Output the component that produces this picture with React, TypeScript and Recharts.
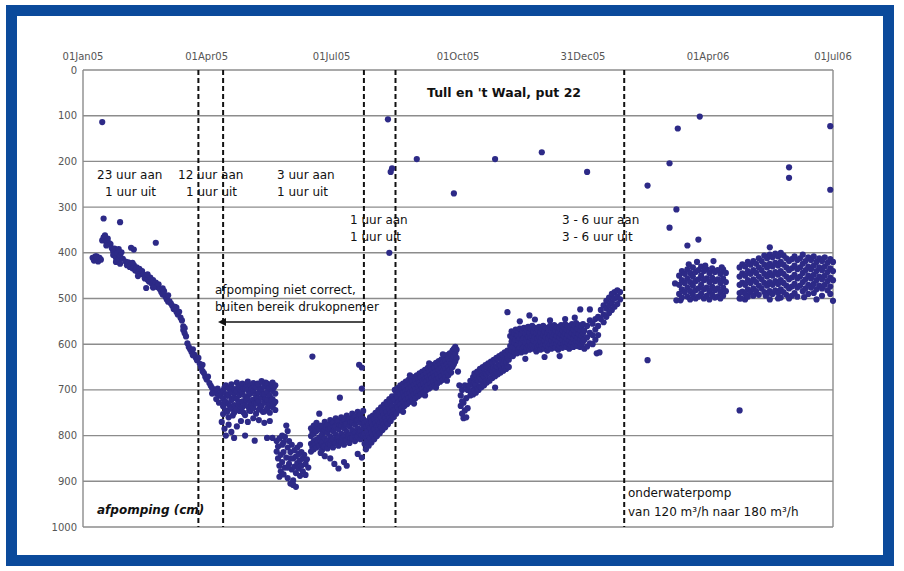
import React from "react";
import { CartesianGrid, ReferenceLine, Scatter, ScatterChart, XAxis, YAxis } from "recharts";

type Pt = [number, number]; // [day since 01Jan05, afpomping in cm]

const tickDays = [0, 90, 181, 273, 364, 455, 546];
const tickLabels = ["01Jan05", "01Apr05", "01Jul05", "01Oct05", "31Dec05", "01Apr06", "01Jul06"];
const depthTicks = [0, 100, 200, 300, 400, 500, 600, 700, 800, 900, 1000];
const switchDays = [84, 102, 204.5, 227.5, 394];

const early: Pt[] = [
  [7,411],[8,417],[9,408],[10,414],[11,419],[12,411],[13,415],[10,408],
  [14,373],[15,366],[16,370],[17,376],[18,369],[19,379],[20,381],[17,384],[16,362],
  [21,390],[22,397],[22,405],[23,391],[24,411],[24,420],[25,401],[26,415],[27,424],[27,406],[28,399],[29,413],[26,392],
  [31,419],[32,427],[33,421],[34,431],[35,424],[36,434],[37,427],[38,439],[39,432],[40,442],[41,435],[42,446],[43,440],[36,422],[40,451],
  [44,448],[45,456],[46,449],[47,459],[48,463],[49,454],[50,467],[51,460],[52,471],[53,465],[54,475],[55,469],[47,447],[51,476],
  [56,480],[57,486],[58,491],[59,484],[60,496],[61,502],[62,493],[63,506],[64,511],[58,478],[62,507],
  [65,516],[66,523],[67,518],[68,529],[69,535],[70,529],[71,542],[72,548],[68,520],
  [73,561],[73,569],[74,576],[75,583],[74,565],
  [76,598],[77,606],[78,611],[79,617],[80,611],[81,623],[82,629],[83,635],[84,630],[80,624],
  [85,643],[86,651],[87,659],[88,663],[89,671],[90,677],[91,671],[87,645],
  [92,685],[93,691],[94,696],[95,700],[96,704],[97,707],[98,697],[99,711],[100,713],[101,704],[94,708],[97,720],[99,728],
];

const earlyOutliers: Pt[] = [[14,114],[15,325],[27,333],[53,378],[35,389],[37,393],[46,477]];

const plateau: Pt[] = [
  [102,701],[102,719],[102,736],[102,753],[103,695],[103,729],
  [104,690],[104,709],[104,726],[104,745],[105,713],[105,748],
  [106,696],[106,711],[106,731],[106,760],[107,700],[107,736],
  [108,688],[108,705],[108,722],[108,741],[109,719],[109,756],
  [110,698],[110,717],[110,733],[110,750],[111,706],[111,740],
  [112,684],[112,703],[112,720],[112,743],[113,694],[113,731],
  [114,692],[114,711],[114,727],[114,746],[115,702],[115,738],
  [116,686],[116,705],[116,725],[116,738],[117,697],[117,750],
  [118,696],[118,714],[118,733],[118,755],[119,688],[119,722],
  [120,682],[120,700],[120,718],[120,736],[121,709],[121,745],
  [122,690],[122,708],[122,727],[122,746],[123,697],[123,734],
  [124,685],[124,703],[124,721],[124,740],[125,693],[125,729],
  [126,694],[126,712],[126,730],[126,752],[127,686],[127,719],
  [128,688],[128,706],[128,725],[128,743],[129,698],[129,735],
  [130,681],[130,699],[130,717],[130,735],[131,709],[131,748],
  [132,692],[132,710],[132,728],[132,747],[133,684],[133,720],
  [134,686],[134,704],[134,722],[134,741],[135,696],[135,733],
  [136,695],[136,713],[136,731],[136,750],[137,688],[137,723],
  [138,684],[138,702],[138,720],[138,738],[139,694],[139,730],
  [140,690],[140,708],[140,726],[140,744],
];

const plateauLow: Pt[] = [
  [101,770],[103,785],[104,800],[106,776],[108,792],[110,805],[112,780],[115,768],[118,800],
  [120,770],[124,762],[125,811],[128,766],[132,772],[134,805],[136,768],[138,805],
];

const dip: Pt[] = [
  [141,812],[141,835],[142,850],[142,824],[143,866],[143,806],[144,842],[144,878],[145,820],[145,858],
  [146,836],[146,885],[147,803],[147,870],[148,778],[148,848],[149,790],[149,826],[149,893],[150,812],
  [150,862],[151,836],[151,905],[152,874],[152,820],[153,850],[153,898],[154,832],[154,868],[155,846],
  [155,882],[156,826],[156,860],[157,872],[157,840],[158,854],[158,888],[159,836],[159,866],[160,850],
  [160,878],[161,842],[162,862],[162,886],[163,852],[164,870],[155,912],[153,908],[146,815],[151,850],
  [158,820],[143,890],[149,870],[145,800],
];

const recovery: Pt[] = [
  [166,784],[166,801],[166,818],[166,835],[167,792],[167,826],
  [168,778],[168,796],[168,812],[168,830],[169,788],[169,820],
  [170,772],[170,790],[170,809],[170,826],[171,782],[171,815],
  [172,786],[172,804],[172,822],[173,778],[173,812],[173,838],
  [174,780],[174,798],[174,816],[174,832],[175,790],[175,824],
  [176,770],[176,788],[176,806],[176,824],[177,781],[177,813],
  [178,776],[178,794],[178,812],[178,828],[179,786],[179,818],
  [180,766],[180,784],[180,802],[180,820],[181,775],[181,810],
  [182,772],[182,790],[182,808],[182,826],[183,781],[183,815],
  [184,762],[184,780],[184,798],[184,816],[185,770],[185,806],
  [186,768],[186,786],[186,804],[186,822],[187,777],[187,812],
  [188,760],[188,778],[188,796],[188,814],[189,769],[189,805],
  [190,766],[190,784],[190,802],[190,820],[191,775],[191,810],
  [192,756],[192,774],[192,792],[192,810],[193,765],[193,801],
  [194,762],[194,780],[194,798],[194,816],[195,771],[195,806],
  [196,752],[196,770],[196,788],[196,806],[197,761],[197,797],
  [198,758],[198,776],[198,794],[198,812],[199,767],[199,803],
  [200,748],[200,766],[200,784],[200,802],[201,757],[201,793],
  [202,754],[202,772],[202,790],[202,808],[203,763],[203,799],
  [204,746],[204,764],[204,782],[204,800],
];

const recoveryOutliers: Pt[] = [
  [172,752],[176,845],[180,850],[183,862],[186,872],[190,858],[192,866],[187,717],[167,627],
  [201,645],[203,651],[203,697],[203,848],[200,840],
];

const oneHour: Pt[] = [
  [205,772],[205,795],[205,818],[206,782],[206,806],[206,830],
  [207,768],[207,790],[207,812],[208,776],[208,800],[208,822],
  [209,760],[209,784],[209,806],[210,770],[210,794],[210,815],
  [211,756],[211,778],[211,800],[212,764],[212,786],[212,808],
  [213,750],[213,772],[213,794],[214,758],[214,780],[214,801],
  [215,744],[215,766],[215,788],[216,752],[216,774],[216,795],
  [217,738],[217,760],[217,782],[218,746],[218,768],[218,788],
  [219,732],[219,754],[219,775],[220,740],[220,762],[220,782],
  [221,726],[221,748],[221,769],[222,734],[222,756],[222,775],
  [223,720],[223,742],[223,762],[224,728],[224,750],[224,768],
  [225,714],[225,736],[225,756],[226,722],[226,744],[226,760],
];

const oneHourOutliers: Pt[] = [[222,108],[225,215],[224,223],[223,400]];

const autumn: Pt[] = [
  [227,700],[227,722],[227,744],[228,710],[228,732],[228,752],
  [229,696],[229,716],[229,738],[230,704],[230,726],[230,745],
  [231,690],[231,710],[231,732],[232,698],[232,720],[232,740],
  [233,686],[233,706],[233,727],[234,694],[234,714],[234,735],
  [235,682],[235,702],[235,722],[236,690],[236,710],[236,731],
  [237,678],[237,698],[237,718],[238,686],[238,706],[238,726],
  [239,676],[239,694],[239,714],[240,682],[240,702],[240,722],
  [241,672],[241,690],[241,710],[242,680],[242,698],[242,718],
  [243,668],[243,686],[243,706],[244,676],[244,694],[244,714],
  [245,664],[245,684],[245,702],[246,672],[246,690],[246,710],
  [247,660],[247,680],[247,698],[248,668],[248,686],[248,705],
  [249,656],[249,676],[249,694],[250,664],[250,682],[250,700],
  [251,652],[251,672],[251,690],[252,660],[252,678],[252,697],
  [253,648],[253,668],[253,686],[254,656],[254,674],[254,693],
  [255,645],[255,664],[255,682],[256,652],[256,670],[256,690],
  [257,641],[257,660],[257,678],[258,648],[258,666],[258,686],
  [259,637],[259,656],[259,674],[260,644],[260,662],[260,682],
  [261,633],[261,652],[261,670],[262,640],[262,658],[262,678],
  [263,628],[263,648],[263,666],[264,636],[264,654],[264,673],
  [265,624],[265,644],[265,662],[266,632],[266,650],[266,668],
  [267,620],[267,638],[267,656],[268,626],[268,644],[268,662],
  [269,614],[269,632],[269,650],[270,610],[270,626],[270,644],
  [271,606],[271,620],[271,638],[272,612],[272,630],
  [273,660],[274,690],[275,712],[275,735],[276,752],[276,700],[277,728],[277,762],[278,745],
  [278,690],[279,718],[280,740],[280,700],[281,690],[282,712],[282,680],[276,725],[279,760],
  [233,748],[241,730],[249,712],[257,695],[265,680],[238,668],[252,642],[262,622],
];

const lateAutumn: Pt[] = [
  [283,680],[283,702],[284,672],[284,690],[284,710],[285,664],[285,684],[285,702],
  [286,668],[286,688],[286,706],[287,660],[287,678],[287,698],
  [288,662],[288,680],[288,700],[289,654],[289,672],[289,692],
  [290,658],[290,676],[290,694],[291,650],[291,668],[291,688],
  [292,652],[292,670],[292,690],[293,646],[293,664],[293,682],
  [294,650],[294,666],[294,684],[295,642],[295,660],[295,678],
  [296,644],[296,662],[296,680],[297,638],[297,656],[297,674],
  [298,640],[298,658],[298,674],[299,634],[299,652],[299,668],
  [300,636],[300,654],[300,670],[301,630],[301,648],[301,664],
  [302,632],[302,650],[302,666],[303,626],[303,644],[303,660],
  [304,628],[304,646],[304,662],[305,622],[305,640],[305,656],
  [306,624],[306,642],[306,658],[307,618],[307,636],[307,652],
  [308,620],[308,638],[308,654],[309,614],[309,632],[309,648],
  [310,616],[310,634],[310,650],
];

const winter: Pt[] = [
  [311,582],[311,604],[311,624],[312,572],[312,594],[312,614],[313,584],[313,606],[313,626],
  [314,576],[314,596],[314,618],[315,568],[315,590],[315,610],[316,580],[316,602],[316,620],
  [317,572],[317,592],[317,612],[318,566],[318,588],[318,608],[319,578],[319,598],[319,618],
  [320,570],[320,590],[320,610],[321,564],[321,586],[321,606],[322,576],[322,596],[322,616],
  [323,568],[323,588],[323,608],[324,562],[324,584],[324,604],[325,574],[325,594],[325,612],
  [326,566],[326,586],[326,606],[327,560],[327,582],[327,602],[328,572],[328,592],[328,610],
  [329,564],[329,584],[329,604],[330,576],[330,598],[330,616],[331,568],[331,588],[331,606],
  [332,562],[332,582],[332,602],[333,574],[333,594],[333,612],[334,566],[334,586],[334,604],
  [335,560],[335,580],[335,600],[336,572],[336,592],[336,610],[337,564],[337,584],[337,602],
  [338,576],[338,596],[338,614],[339,568],[339,588],[339,606],[340,560],[340,580],[340,600],
  [341,572],[341,592],[341,610],[342,564],[342,584],[342,602],[343,558],[343,578],[343,598],
  [344,570],[344,590],[344,608],[345,562],[345,582],[345,600],[346,574],[346,594],[346,612],
  [347,566],[347,586],[347,604],[348,558],[348,578],[348,598],[349,570],[349,590],[349,608],
  [350,562],[350,582],[350,600],[351,556],[351,576],[351,596],[352,568],[352,588],[352,606],
  [353,560],[353,580],[353,598],[354,572],[354,592],[354,610],[355,564],[355,584],[355,602],
  [356,556],[356,576],[356,596],[357,568],[357,588],[357,606],[358,560],[358,580],[358,598],
  [359,554],[359,574],[359,594],[360,566],[360,586],[360,604],[361,558],[361,578],[361,596],
  [362,570],[362,590],[362,606],[363,562],[363,582],[363,600],[364,556],[364,576],[364,594],
  [365,570],[365,590],[365,610],[367,560],[367,585],[367,605],[369,548],[369,575],[369,598],
  [371,555],[371,580],[371,600],[373,545],[373,568],[373,590],[375,540],[375,560],[375,580],
  [377,525],[377,545],[379,515],[379,535],[379,552],[381,505],[381,522],[381,540],
  [383,498],[383,515],[383,532],[385,490],[385,508],[385,525],[387,486],[387,500],[387,518],
  [389,482],[389,496],[389,512],[391,486],[391,502],
  [318,550],[329,546],[340,548],[351,545],[358,542],[322,632],[336,628],[347,626],
];

const winterOutliers: Pt[] = [
  [300,695],[309,530],[325,537],[362,524],[369,524],[374,620],[243,195],[270,270],[300,195],
  [334,180],[367,223],
];

const newPump: Pt[] = [
  [431,467],[432,504],[435,504],
  [434,450],[434,470],[434,490],[436,440],[436,460],[436,480],[436,498],
  [438,446],[438,466],[438,486],[440,436],[440,456],[440,476],[440,496],
  [442,444],[442,464],[442,484],[442,502],[444,432],[444,452],[444,472],[444,492],
  [446,442],[446,462],[446,482],[446,500],[448,438],[448,458],[448,478],[448,496],
  [450,430],[450,450],[450,470],[450,490],[452,440],[452,460],[452,480],[452,500],
  [454,436],[454,456],[454,476],[454,494],[456,444],[456,464],[456,484],[456,502],
  [458,434],[458,454],[458,474],[458,492],[460,442],[460,462],[460,482],[460,498],
  [462,438],[462,458],[462,478],[462,496],[464,446],[464,466],[464,486],[464,500],
  [466,436],[466,456],[466,476],[466,494],[468,444],[468,464],[468,484],
  [441,425],[447,420],[453,428],[459,418],[465,432],
];

const newPumpOutliers: Pt[] = [
  [427,345],[440,384],[448,371],[411,253],[427,204],[433,128],[449,102],[432,305],[411,635],[376,618],
];

const summer06: Pt[] = [
  [478,432],[478,452],[478,470],[478,488],[478,500],[480,425],[480,445],[480,465],[480,485],
  [482,430],[482,450],[482,470],[482,490],[482,502],[484,420],[484,440],[484,460],[484,480],[484,496],
  [486,426],[486,446],[486,466],[486,486],[488,418],[488,438],[488,458],[488,478],[488,494],
  [490,424],[490,444],[490,464],[490,484],[492,412],[492,432],[492,452],[492,472],[492,492],
  [494,418],[494,438],[494,458],[494,478],[496,406],[496,426],[496,446],[496,466],[496,486],
  [498,412],[498,432],[498,452],[498,472],[498,490],[500,388],[500,404],[500,424],[500,444],[500,464],[500,484],
  [502,410],[502,430],[502,450],[502,470],[502,490],[504,402],[504,422],[504,442],[504,462],[504,482],
  [506,408],[506,428],[506,448],[506,468],[506,488],[508,400],[508,420],[508,440],[508,460],[508,480],[508,498],
  [510,406],[510,426],[510,446],[510,466],[510,486],[512,412],[512,432],[512,452],[512,472],[512,492],
  [514,418],[514,438],[514,458],[514,478],[514,500],[516,414],[516,434],[516,454],[516,474],[516,494],
  [518,408],[518,428],[518,448],[518,468],[518,488],[520,416],[520,436],[520,456],[520,476],[520,496],
  [522,412],[522,432],[522,452],[522,472],[524,404],[524,424],[524,444],[524,464],[524,484],
  [526,418],[526,438],[526,458],[526,478],[528,410],[528,430],[528,450],[528,470],[528,490],
  [530,416],[530,436],[530,456],[530,476],[532,408],[532,428],[532,448],[532,468],[532,488],
  [534,420],[534,440],[534,460],[534,480],[534,502],[536,412],[536,432],[536,452],[536,472],
  [538,418],[538,438],[538,458],[538,478],[538,494],[540,410],[540,430],[540,450],[540,470],
  [542,422],[542,442],[542,462],[542,482],[544,414],[544,434],[544,454],[544,474],[544,490],
  [546,420],[546,440],[546,460],[546,505],
  [479,500],[500,502],[506,500],[497,494],[525,497],
];

const summer06Outliers: Pt[] = [[514,213],[514,236],[544,123],[544,262],[478,745]];

const allPoints = [
  ...early, ...earlyOutliers, ...plateau, ...plateauLow, ...dip, ...recovery, ...recoveryOutliers,
  ...oneHour, ...oneHourOutliers, ...autumn, ...lateAutumn, ...winter, ...winterOutliers,
  ...newPump, ...newPumpOutliers, ...summer06, ...summer06Outliers,
].map(([day, cm]) => ({ day, cm }));

const FONT = "'DejaVu Sans', Arial, sans-serif";
const GRID = "#8c8c8c";
const DOT = "#2d2a87";

const Dot = (p: any) => <circle cx={p.cx} cy={p.cy} r={3.1} fill={DOT} />;

function Notes() {
  const t = { fontFamily: FONT, fontSize: 12, fill: "#111", dominantBaseline: "middle" } as const;
  return (
    <svg width={904} height={571} style={{ position: "absolute", left: 0, top: 0, pointerEvents: "none" }}>
      <text x={427} y={93} {...t} fontSize={12.5} fontWeight="bold">Tull en 't Waal, put 22</text>
      <text x={97} y={175} {...t}>23 uur aan</text>
      <text x={105} y={192} {...t}>1 uur uit</text>
      <text x={178} y={175} {...t}>12 uur aan</text>
      <text x={186} y={192} {...t}>1 uur uit</text>
      <text x={277} y={175} {...t}>3 uur aan</text>
      <text x={277} y={192} {...t}>1 uur uit</text>
      <text x={350} y={220} {...t}>1 uur aan</text>
      <text x={350} y={237} {...t}>1 uur uit</text>
      <text x={562} y={220} {...t}>3 - 6 uur aan</text>
      <text x={562} y={237} {...t}>3 - 6 uur uit</text>
      <text x={215} y={290} {...t}>afpomping niet correct,</text>
      <text x={215} y={307} {...t}>buiten bereik drukopnemer</text>
      <line x1={220} y1={322} x2={364} y2={322} stroke="#111" strokeWidth={1.5} />
      <path d="M218,322 L226,318 L226,326 Z" fill="#111" />
      <text x={97} y={510} {...t} fontWeight="bold" fontStyle="italic">afpomping (cm)</text>
      <text x={628} y={493} {...t}>onderwaterpomp</text>
      <text x={628} y={512} {...t}>van 120 m³/h naar 180 m³/h</text>
    </svg>
  );
}

export default function App() {
  return (
    <div style={{ position: "absolute", left: 0, top: 0, width: 904, height: 571, background: "#fff" }}>
      <div
        style={{
          position: "absolute", left: 6, top: 5, width: 888, height: 561,
          border: "11px solid #0b4a9b", boxSizing: "border-box",
        }}
      />
      <div style={{ position: "absolute", left: 0, top: 0 }}>
        <ScatterChart width={904} height={571} margin={{ top: 50, right: 71, bottom: 44, left: 43 }}>
          <CartesianGrid vertical={false} stroke={GRID} strokeWidth={1.4} />
          <XAxis
            type="number"
            dataKey="day"
            orientation="top"
            domain={[0, 546]}
            ticks={tickDays}
            interval={0}
            tickFormatter={(v: number) => tickLabels[tickDays.indexOf(v)] ?? ""}
            axisLine={false}
            tickLine={false}
            tickSize={0}
            tickMargin={10}
            height={20}
            tick={{ fontSize: 10, fill: "#555", fontFamily: FONT }}
          />
          <YAxis
            type="number"
            dataKey="cm"
            reversed
            domain={[0, 1000]}
            ticks={depthTicks}
            interval={0}
            width={40}
            axisLine={{ stroke: GRID, strokeWidth: 1.4 }}
            tickLine={false}
            tickSize={0}
            tickMargin={6}
            tick={{ fontSize: 10, fill: "#555", fontFamily: FONT }}
          />
          <ReferenceLine x={546} stroke={GRID} strokeWidth={1.4} />
          {switchDays.map((d) => (
            <ReferenceLine key={d} x={d} stroke="#111" strokeWidth={2} strokeDasharray="5 3" />
          ))}
          <Scatter data={allPoints} fill={DOT} shape={Dot} isAnimationActive={false} />
        </ScatterChart>
      </div>
      <Notes />
    </div>
  );
}
